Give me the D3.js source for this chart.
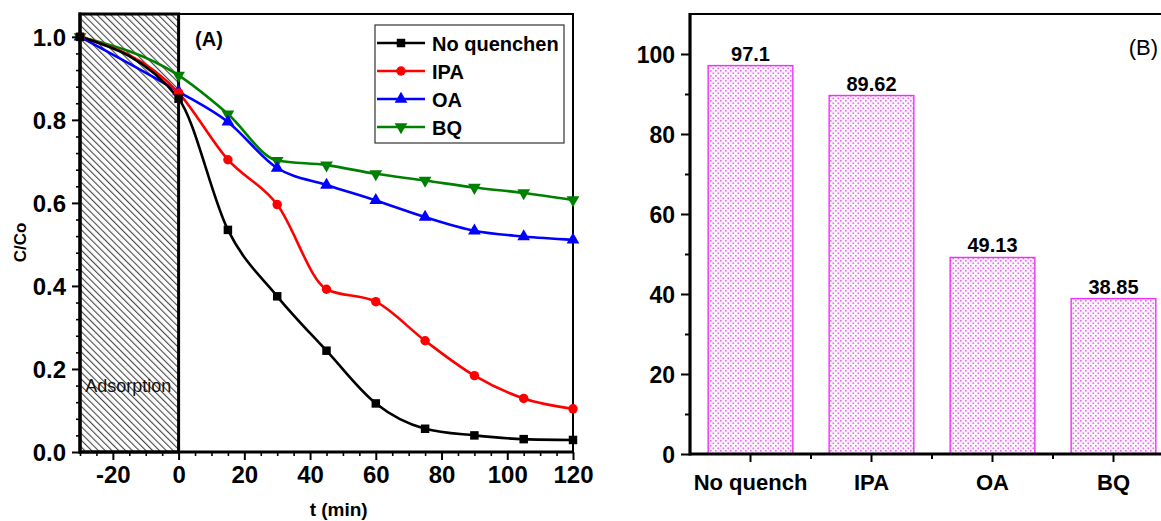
<!DOCTYPE html>
<html>
<head>
<meta charset="utf-8">
<script src="https://cdn.jsdelivr.net/npm/d3@7"></script>
<style>
  html, body { margin: 0; padding: 0; background: #fff; }
  svg { display: block; font-family: "Liberation Sans", Arial, sans-serif; }
</style>
</head>
<body>
<svg id="fig" width="1161" height="521"></svg>
<script>
// ---- Panel A: degradation kinetics with scavengers ----
const times = [-30, 0, 15, 30, 45, 60, 75, 90, 105, 120];
const noQuench = [1.0, 0.851, 0.535, 0.375, 0.244, 0.117, 0.056, 0.040, 0.031, 0.029];
const ipa      = [1.0, 0.865, 0.704, 0.596, 0.392, 0.362, 0.268, 0.184, 0.129, 0.104];
const oa       = [1.0, 0.868, 0.795, 0.684, 0.643, 0.606, 0.566, 0.533, 0.519, 0.511];
const bq       = [1.0, 0.907, 0.814, 0.702, 0.691, 0.670, 0.654, 0.637, 0.624, 0.607];
const seriesNames = ["No quenchen", "IPA", "OA", "BQ"];
const xTicksA = [-20, 0, 20, 40, 60, 80, 100, 120];
const yTicksA = [0.0, 0.2, 0.4, 0.6, 0.8, 1.0];

// ---- Panel B: removal efficiency ----
const categories = ["No quench", "IPA", "OA", "BQ"];
const removal = [97.1, 89.62, 49.13, 38.85];
const yTicksB = [0, 20, 40, 60, 80, 100];

const svg = d3.select("#fig");
const defs = svg.append("defs");

// diagonal hatch for the adsorption (dark) period
const hatch = defs.append("pattern")
  .attr("id", "hatch").attr("patternUnits", "userSpaceOnUse")
  .attr("width", 4.8).attr("height", 4.8)
  .attr("patternTransform", "rotate(-45)");
hatch.append("rect").attr("width", 4.8).attr("height", 4.8).attr("fill", "#fff");
hatch.append("line").attr("x1", 0.6).attr("y1", 0).attr("x2", 0.6).attr("y2", 4.8)
  .attr("stroke", "#333").attr("stroke-width", 1.0);

// dotted fill for bars
const dots = defs.append("pattern")
  .attr("id", "dots").attr("patternUnits", "userSpaceOnUse")
  .attr("width", 5).attr("height", 5);
dots.append("rect").attr("width", 5).attr("height", 5).attr("fill", "#fdf4fe");
dots.append("rect").attr("x", 0).attr("y", 0).attr("width", 1.6).attr("height", 1.6).attr("fill", "#e46cf2");
dots.append("rect").attr("x", 2.5).attr("y", 2.5).attr("width", 1.6).attr("height", 1.6).attr("fill", "#e46cf2");

// plain hyphen for negative tick values
const intFmt = d => String(d);

// ================= Panel A =================
const xA = d3.scaleLinear().domain([-30, 120]).range([80, 573]);
const yA = d3.scaleLinear().domain([0, 1.055]).range([452, 14]);

// adsorption region
svg.append("rect")
  .attr("x", xA(-30)).attr("y", yA(1.055))
  .attr("width", xA(0) - xA(-30)).attr("height", yA(0) - yA(1.055))
  .attr("fill", "url(#hatch)");

svg.append("text")
  .attr("x", xA(-28.4)).attr("y", yA(0.145))
  .attr("font-size", 18).attr("fill", "#111")
  .text("Adsorption");

// frame
svg.append("rect")
  .attr("x", xA(-30)).attr("y", yA(1.055))
  .attr("width", xA(120) - xA(-30)).attr("height", yA(0) - yA(1.055))
  .attr("fill", "none").attr("stroke", "#000").attr("stroke-width", 2);
// heavier border round the adsorption block
svg.append("rect")
  .attr("x", xA(-30)).attr("y", yA(1.055))
  .attr("width", xA(0) - xA(-30)).attr("height", yA(0) - yA(1.055))
  .attr("fill", "none").attr("stroke", "#000").attr("stroke-width", 3);

const series = [
  { name: seriesNames[0], values: noQuench, color: "#000000", symbol: d3.symbolSquare, size: 72, rot: 0 },
  { name: seriesNames[1], values: ipa,      color: "#ff0000", symbol: d3.symbolCircle, size: 70, rot: 0 },
  { name: seriesNames[2], values: oa,       color: "#0000ff", symbol: d3.symbolTriangle, size: 70, rot: 0 },
  { name: seriesNames[3], values: bq,       color: "#008000", symbol: d3.symbolTriangle, size: 70, rot: 180 }
];

const line = d3.line()
  .x((d, i) => xA(times[i]))
  .y(d => yA(d))
  .curve(d3.curveMonotoneX);

const gLines = svg.append("g");
series.slice().reverse().forEach(s => {
  gLines.append("path")
    .attr("d", line(s.values))
    .attr("fill", "none").attr("stroke", s.color).attr("stroke-width", 2.6);
});
series.slice().reverse().forEach(s => {
  gLines.selectAll(null).data(s.values).enter().append("path")
    .attr("d", d3.symbol().type(s.symbol).size(s.size))
    .attr("transform", (d, i) => `translate(${xA(times[i])},${yA(d)}) rotate(${s.rot})`)
    .attr("fill", s.color);
});

// axes A
function styleAxis(g) {
  g.select(".domain").remove();
  g.selectAll(".tick line").attr("stroke", "#000").attr("stroke-width", 2);
  g.selectAll(".tick text").attr("fill", "#000").attr("font-weight", "bold");
}
const xAxisA = svg.append("g").attr("transform", `translate(0,${yA(0)})`)
  .call(d3.axisBottom(xA).tickValues(xTicksA).tickFormat(intFmt).tickSize(8).tickPadding(6));
styleAxis(xAxisA);
xAxisA.selectAll(".tick text").attr("font-size", 24).attr("dy", "0.72em");
const xMinorA = d3.range(-30, 121, 5).filter(v => !xTicksA.includes(v));
svg.append("g").attr("transform", `translate(0,${yA(0)})`)
  .call(d3.axisBottom(xA).tickValues(xMinorA).tickFormat("").tickSize(4))
  .call(g => { g.select(".domain").remove(); g.selectAll(".tick line").attr("stroke", "#000").attr("stroke-width", 1.6); });

const yAxisA = svg.append("g").attr("transform", `translate(${xA(-30)},0)`)
  .call(d3.axisLeft(yA).tickValues(yTicksA).tickFormat(d => d.toFixed(1)).tickSize(8).tickPadding(6));
styleAxis(yAxisA);
yAxisA.selectAll(".tick text").attr("font-size", 24).attr("dy", "0.36em");
const yMinorA = d3.range(0, 26).map(i => i * 0.04).filter(v => Math.abs(v / 0.2 - Math.round(v / 0.2)) > 1e-6);
svg.append("g").attr("transform", `translate(${xA(-30)},0)`)
  .call(d3.axisLeft(yA).tickValues(yMinorA).tickFormat("").tickSize(4))
  .call(g => { g.select(".domain").remove(); g.selectAll(".tick line").attr("stroke", "#000").attr("stroke-width", 1.6); });

// thick axis lines
svg.append("line").attr("x1", xA(-30)).attr("x2", xA(120)).attr("y1", yA(0)).attr("y2", yA(0))
  .attr("stroke", "#000").attr("stroke-width", 3.2);
svg.append("line").attr("x1", xA(-30)).attr("x2", xA(-30)).attr("y1", yA(0) + 1.6).attr("y2", yA(1.055) - 1.5)
  .attr("stroke", "#000").attr("stroke-width", 3.2);

svg.append("text")
  .attr("transform", `translate(26,${yA(0.505)}) rotate(-90)`)
  .attr("text-anchor", "middle").attr("font-size", 17).attr("font-weight", "bold")
  .text("C/Co");
svg.append("text")
  .attr("x", xA(48.7)).attr("y", 516)
  .attr("text-anchor", "middle").attr("font-size", 19).attr("font-weight", "bold")
  .text("t (min)");
svg.append("text")
  .attr("x", xA(5)).attr("y", 46)
  .attr("font-size", 20).attr("font-weight", "bold")
  .text("(A)");

// legend
const legend = svg.append("g").attr("transform", "translate(375,25)");
legend.append("rect").attr("width", 189).attr("height", 118)
  .attr("fill", "#fff").attr("stroke", "#333").attr("stroke-width", 1.2);
series.forEach((s, i) => {
  const cy = 18 + i * 28;
  legend.append("line").attr("x1", 2).attr("x2", 50).attr("y1", cy).attr("y2", cy)
    .attr("stroke", s.color).attr("stroke-width", 2.6);
  legend.append("path")
    .attr("d", d3.symbol().type(s.symbol).size(s.size))
    .attr("transform", `translate(26,${cy}) rotate(${s.rot})`)
    .attr("fill", s.color);
  legend.append("text").attr("x", 57).attr("y", cy + 7.5)
    .attr("font-size", 20).attr("font-weight", "bold").text(s.name);
});

// ================= Panel B =================
const xB = d3.scaleBand().domain(categories).range([690, 1174]).paddingInner(0.3).paddingOuter(0.15);
const yB = d3.scaleLinear().domain([0, 110]).range([454, 14]);

svg.append("line").attr("x1", 690).attr("x2", 1174).attr("y1", yB(110)).attr("y2", yB(110))
  .attr("stroke", "#000").attr("stroke-width", 2.2);

svg.selectAll(".bar").data(removal).enter().append("rect")
  .attr("class", "bar")
  .attr("x", (d, i) => xB(categories[i]))
  .attr("y", d => yB(d))
  .attr("width", xB.bandwidth())
  .attr("height", d => yB(0) - yB(d))
  .attr("fill", "url(#dots)").attr("stroke", "#f030f8").attr("stroke-width", 1.4);

svg.selectAll(".val").data(removal).enter().append("text")
  .attr("x", (d, i) => xB(categories[i]) + xB.bandwidth() / 2)
  .attr("y", d => yB(d) - 5)
  .attr("text-anchor", "middle").attr("font-size", 20).attr("font-weight", "bold")
  .text(d => String(d));

const yAxisB = svg.append("g").attr("transform", "translate(690,0)")
  .call(d3.axisLeft(yB).tickValues(yTicksB).tickFormat(intFmt).tickSize(9).tickPadding(6));
styleAxis(yAxisB);
yAxisB.selectAll(".tick text").attr("font-size", 23).attr("dy", "0.36em");
svg.append("g").attr("transform", "translate(690,0)")
  .call(d3.axisLeft(yB).tickValues([10, 30, 50, 70, 90]).tickFormat("").tickSize(5))
  .call(g => { g.select(".domain").remove(); g.selectAll(".tick line").attr("stroke", "#000").attr("stroke-width", 2); });

const xAxisB = svg.append("g").attr("transform", `translate(0,${yB(0)})`)
  .call(d3.axisBottom(xB).tickSize(8).tickPadding(12));
styleAxis(xAxisB);
xAxisB.selectAll(".tick text").attr("font-size", 22).attr("dy", "0.72em");
// minor ticks on band boundaries
svg.append("g").selectAll("line").data(categories.slice(1)).enter().append("line")
  .attr("x1", d => xB(d) - xB.step() * xB.paddingInner() / 2)
  .attr("x2", d => xB(d) - xB.step() * xB.paddingInner() / 2)
  .attr("y1", yB(0)).attr("y2", yB(0) + 5)
  .attr("stroke", "#000").attr("stroke-width", 2);

svg.append("line").attr("x1", 690).attr("x2", 1174).attr("y1", yB(0)).attr("y2", yB(0))
  .attr("stroke", "#000").attr("stroke-width", 3.2);
svg.append("line").attr("x1", 690).attr("x2", 690).attr("y1", yB(0) + 1.6).attr("y2", yB(110) - 1.1)
  .attr("stroke", "#000").attr("stroke-width", 3.2);

svg.append("text")
  .attr("x", 1158).attr("y", 55)
  .attr("text-anchor", "end").attr("font-size", 22)
  .text("(B)");
</script>
</body>
</html>
